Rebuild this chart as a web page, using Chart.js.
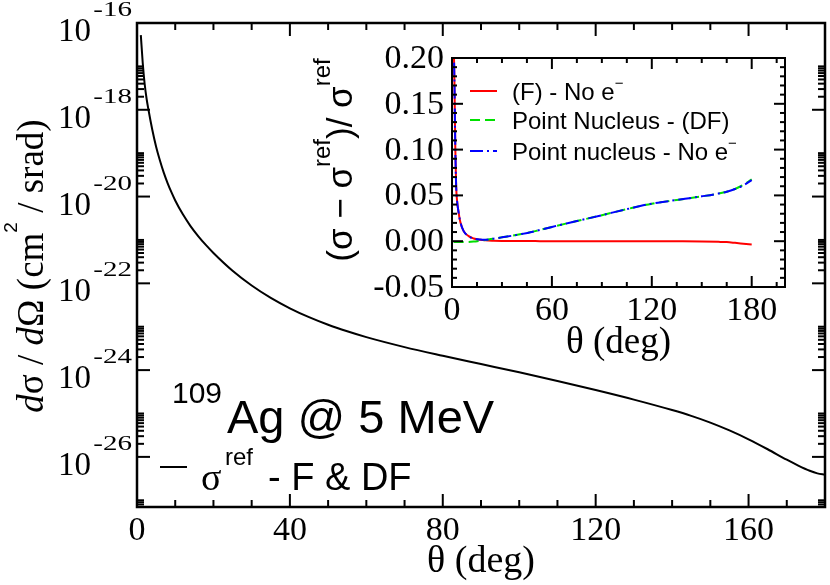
<!DOCTYPE html>
<html>
<head>
<meta charset="utf-8">
<script src="https://cdn.jsdelivr.net/npm/chart.js@4.4.0/dist/chart.umd.min.js"></script>
<style>
  html, body { margin: 0; padding: 0; background: #fff; }
  #wrap { position: relative; width: 830px; height: 585px; }
  #main { position: absolute; left: 0; top: 0; }
  #inset { position: absolute; left: 300px; top: 30px; }
</style>
</head>
<body>
<div id="wrap">
  <canvas id="main" width="830" height="585"></canvas>
  <canvas id="inset" width="530" height="340"></canvas>
</div>
<script>
// Main panel: d sigma / d Omega vs theta
const mainTheta = [1, 1.5, 2, 2.5, 3, 4, 5, 6, 7, 8, 9, 10, 12, 14, 16, 18, 20, 25, 30, 35,
  40, 45, 50, 55, 60, 70, 80, 90, 100, 110, 120, 130, 140, 145, 150, 155, 160, 165,
  170, 173, 176, 178, 180];
const mainSigma = [5.25e-17, 1.20e-17, 3.98e-18, 1.82e-18, 1.0e-18,
  3.47e-19, 1.41e-19, 6.76e-20, 3.55e-20, 2.04e-20, 1.26e-20, 8.13e-21,
  3.89e-21, 2.09e-21, 1.23e-21, 7.67e-22, 5.01e-22,
  1.95e-22, 8.91e-23, 4.62e-23,
  2.66e-23, 1.66e-23, 1.11e-23, 7.85e-24, 5.75e-24,
  3.39e-24, 2.14e-24, 1.38e-24, 8.91e-25, 5.62e-25, 3.47e-25, 2.09e-25, 1.20e-25,
  8.81e-26, 6.17e-26, 4.07e-26, 2.54e-26, 1.50e-26,
  8.61e-27, 6.31e-27, 4.79e-27, 4.17e-27, 3.89e-27];
const mainXTicks = [0, 40, 80, 120, 160];
const mainYExponents = [-16, -18, -20, -22, -24, -26];

// Inset: relative differences
const insetTheta = [1, 1.5, 2, 2.5, 3, 4, 5, 7, 10, 13, 17, 20, 25, 30, 40, 50, 60, 75, 90,
  105, 120, 135, 150, 160, 165, 170, 175, 180];
const diffFNoE = [0.22, 0.17, 0.10, 0.06, 0.045, 0.031, 0.021, 0.011, 0.0055, 0.003, 0.0015, 0.0009,
  0.0005, 0.0003, 0.0002, 0.0001, 0, 0, 0, 0, 0, -0.0001, -0.0003, -0.0007, -0.001, -0.0018, -0.0027, -0.0036];
const diffPointDF = [-0.0008, -0.0008, -0.0009, -0.0009, -0.001, -0.001, -0.001, -0.001, -0.0009, -0.0004,
  0.0006, 0.0014, 0.0028, 0.0042, 0.0072, 0.011, 0.0156, 0.022, 0.0284, 0.035, 0.041, 0.045, 0.049,
  0.052, 0.054, 0.057, 0.0615, 0.0675];
const diffPointNoE = [0.22, 0.17, 0.10, 0.06, 0.045, 0.031, 0.021, 0.011, 0.0055, 0.003, 0.0018, 0.0016,
  0.0028, 0.0042, 0.0072, 0.011, 0.0156, 0.022, 0.0284, 0.035, 0.041, 0.045, 0.049, 0.052, 0.054,
  0.057, 0.061, 0.0666];
const insetLabels = ['(F) - No e', 'Point Nucleus - (DF)', 'Point nucleus - No e'];
const insetLabelSup = [true, false, true];
const insetXTicks = [0, 60, 120, 180];
const insetYTicks = [-0.05, 0, 0.05, 0.10, 0.15, 0.20];

const SERIF = '"Liberation Serif", "DejaVu Serif", serif';
const SANS = '"Liberation Sans", Arial, sans-serif';

// draw a run of text pieces with their own fonts / vertical offsets
function drawRich(ctx, parts, x, y, align) {
  let total = 0;
  parts.forEach(p => { ctx.font = p.font; p.w = ctx.measureText(p.t).width; total += p.w; });
  let cx = align === 'center' ? x - total / 2 : (align === 'right' ? x - total : x);
  ctx.textAlign = 'left';
  ctx.textBaseline = 'alphabetic';
  parts.forEach(p => { ctx.font = p.font; ctx.fillText(p.t, cx, y + (p.dy || 0)); cx += p.w; });
}

function seg(ctx, x1, y1, x2, y2) {
  ctx.beginPath(); ctx.moveTo(x1, y1); ctx.lineTo(x2, y2); ctx.stroke();
}

const mainDecor = {
  id: 'mainDecor',
  afterDraw(chart) {
    const { ctx, chartArea: a, scales: { x, y } } = chart;
    ctx.save();
    ctx.strokeStyle = '#000';
    ctx.fillStyle = '#000';

    // ticks on all four sides, pointing inward
    ctx.lineWidth = 2;
    for (let v = 0; v <= 180; v += 10) {
      const px = x.getPixelForValue(v);
      const len = mainXTicks.includes(v) ? 13 : 7;
      seg(ctx, px, a.bottom, px, a.bottom - len);
      seg(ctx, px, a.top, px, a.top + len);
    }
    for (let e = -28; e <= -18; e += 2) {
      for (let k = 2; k <= 10; k++) {
        const v = k * Math.pow(10, e);
        if (v < y.min || v > y.max) continue;
        const py = y.getPixelForValue(v);
        seg(ctx, a.left, py, a.left + 7, py);
        seg(ctx, a.right, py, a.right - 7, py);
      }
    }
    mainYExponents.forEach(e => {
      const py = y.getPixelForValue(Math.pow(10, e));
      seg(ctx, a.left, py, a.left + 13, py);
      seg(ctx, a.right, py, a.right - 13, py);
    });

    ctx.lineWidth = 2.5;
    ctx.strokeRect(a.left, a.top, a.right - a.left, a.bottom - a.top);

    // x tick labels
    ctx.font = '34px ' + SERIF;
    ctx.textAlign = 'center';
    ctx.textBaseline = 'alphabetic';
    mainXTicks.forEach(v => ctx.fillText(String(v), x.getPixelForValue(v), 540));

    // y tick labels 10^e (exponent drawn wide, as in the original)
    mainYExponents.forEach(e => {
      const py = y.getPixelForValue(Math.pow(10, e));
      ctx.save();
      ctx.translate(132, py - 7);
      ctx.scale(1.45, 1);
      ctx.font = '20px ' + SERIF;
      ctx.textAlign = 'right';
      ctx.fillText(String(e), 0, 0);
      ctx.restore();
      ctx.font = '33px ' + SERIF;
      ctx.textAlign = 'right';
      ctx.fillText('10', 91, py + 18);
    });

    // axis titles
    drawRich(ctx, [{ t: '\u03b8 (deg)', font: '38px ' + SERIF }], (a.left + a.right) / 2, 572, 'center');
    ctx.save();
    ctx.translate(43, 266);
    ctx.rotate(-Math.PI / 2);
    drawRich(ctx, [
      { t: 'd', font: 'italic 37px ' + SERIF },
      { t: '\u03c3 / ', font: '37px ' + SERIF },
      { t: 'd', font: 'italic 37px ' + SERIF },
      { t: '\u03a9 (cm', font: '37px ' + SERIF },
      { t: '2', font: '19px ' + SANS, dy: -26 },
      { t: ' / srad)', font: '37px ' + SERIF }
    ], 0, 0, 'center');
    ctx.restore();

    // annotation
    drawRich(ctx, [{ t: '109', font: '30px ' + SANS }], 172, 403, 'left');
    drawRich(ctx, [{ t: 'Ag @ 5 MeV', font: '47px ' + SANS }], 227, 433, 'left');
    ctx.lineWidth = 2;
    seg(ctx, 160, 467, 187, 467);
    drawRich(ctx, [{ t: '\u03c3', font: '38px ' + SERIF }], 201, 490, 'left');
    drawRich(ctx, [{ t: 'ref', font: '24px ' + SANS }], 225, 465, 'left');
    drawRich(ctx, [{ t: '- F & DF', font: '38px ' + SANS }], 268, 490, 'left');
    ctx.restore();
  }
};

const insetDecor = {
  id: 'insetDecor',
  afterDraw(chart) {
    const { ctx, chartArea: a, scales: { x, y } } = chart;
    ctx.save();
    ctx.strokeStyle = '#000';
    ctx.fillStyle = '#000';
    ctx.lineWidth = 2;
    for (let v = 0; v <= 200; v += 15) {
      const px = x.getPixelForValue(v);
      const len = insetXTicks.includes(v) ? 11 : 5;
      seg(ctx, px, a.bottom, px, a.bottom - len);
      seg(ctx, px, a.top, px, a.top + len);
    }
    for (let i = -5; i <= 20; i++) {
      const py = y.getPixelForValue(i / 100);
      const len = i % 5 === 0 ? 11 : 5;
      seg(ctx, a.left, py, a.left + len, py);
      seg(ctx, a.right, py, a.right - len, py);
    }
    ctx.strokeRect(a.left, a.top, a.right - a.left, a.bottom - a.top);

    ctx.font = '34px ' + SERIF;
    ctx.textAlign = 'center';
    ctx.textBaseline = 'alphabetic';
    insetXTicks.forEach(v => ctx.fillText(String(v), x.getPixelForValue(v), a.bottom + 33));
    ctx.textAlign = 'right';
    ctx.textBaseline = 'middle';
    insetYTicks.forEach(v => ctx.fillText(v.toFixed(2), a.left - 8, y.getPixelForValue(v) + 1));

    drawRich(ctx, [{ t: '\u03b8 (deg)', font: '37px ' + SERIF }], (a.left + a.right) / 2, a.bottom + 66, 'center');

    ctx.save();
    ctx.translate(52, 130);
    ctx.rotate(-Math.PI / 2);
    drawRich(ctx, [
      { t: '(\u03c3 \u2212 \u03c3', font: '35px ' + SANS },
      { t: 'ref', font: '24px ' + SANS, dy: -22 },
      { t: ')/ \u03c3', font: '35px ' + SANS },
      { t: 'ref', font: '24px ' + SANS, dy: -22 }
    ], 0, 0, 'center');
    ctx.restore();

    // legend
    const rows = [61, 90, 121];
    chart.data.datasets.forEach((ds, i) => {
      ctx.strokeStyle = ds.borderColor;
      ctx.lineWidth = 2;
      ctx.setLineDash(ds.borderDash || []);
      seg(ctx, 170, rows[i], 197, rows[i]);
      ctx.setLineDash([]);
      const parts = [{ t: insetLabels[i], font: '24px ' + SANS }];
      if (insetLabelSup[i]) parts.push({ t: '\u2212', font: '15px ' + SANS, dy: -12 });
      ctx.fillStyle = '#000';
      drawRich(ctx, parts, 212, rows[i] + 9, 'left');
    });
    ctx.restore();
  }
};

const mkPts = (xs, ys) => xs.map((t, i) => ({ x: t, y: ys[i] }));

new Chart(document.getElementById('main'), {
  type: 'line',
  data: {
    datasets: [{
      data: mkPts(mainTheta, mainSigma),
      borderColor: '#000',
      borderWidth: 2,
      pointRadius: 0,
      fill: false,
      cubicInterpolationMode: 'monotone'
    }]
  },
  options: {
    responsive: false,
    animation: false,
    layout: { padding: { left: 137, top: 23, right: 5, bottom: 78 } },
    plugins: { legend: { display: false }, tooltip: { enabled: false } },
    scales: {
      x: { type: 'linear', min: 0, max: 180, display: false },
      y: { type: 'logarithmic', min: 7e-28, max: 1e-16, display: false }
    }
  },
  plugins: [mainDecor]
});

new Chart(document.getElementById('inset'), {
  type: 'line',
  data: {
    datasets: [
      { label: insetLabels[0], data: mkPts(insetTheta, diffFNoE), borderColor: '#ff0000', borderWidth: 2,
        pointRadius: 0, fill: false, cubicInterpolationMode: 'monotone', order: 3 },
      { label: insetLabels[1], data: mkPts(insetTheta, diffPointDF), borderColor: '#00e000', borderWidth: 2,
        borderDash: [10, 5], pointRadius: 0, fill: false, cubicInterpolationMode: 'monotone', order: 2 },
      { label: insetLabels[2], data: mkPts(insetTheta, diffPointNoE), borderColor: '#0000ff', borderWidth: 2,
        borderDash: [13, 4, 2, 4], pointRadius: 0, fill: false, cubicInterpolationMode: 'monotone', order: 1 }
    ]
  },
  options: {
    responsive: false,
    animation: false,
    layout: { padding: { left: 152, top: 28, right: 45, bottom: 83 } },
    plugins: { legend: { display: false }, tooltip: { enabled: false } },
    scales: {
      x: { type: 'linear', min: 0, max: 200, display: false },
      y: { type: 'linear', min: -0.05, max: 0.20, display: false }
    }
  },
  plugins: [insetDecor]
});
</script>
</body>
</html>
